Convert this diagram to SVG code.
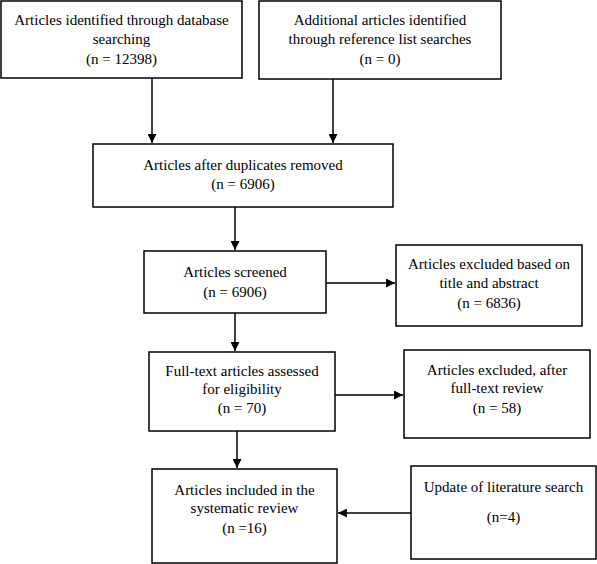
<svg xmlns="http://www.w3.org/2000/svg" width="597" height="564" viewBox="0 0 597 564">
<defs>
<marker id="ah" viewBox="0 0 10 10" refX="10" refY="5" markerWidth="9" markerHeight="9" markerUnits="userSpaceOnUse" orient="auto">
<path d="M0,0 L10,5 L0,10 z" fill="#000"/>
</marker>
<style>
.box{fill:#fff;stroke:#000;stroke-width:1.5}
.t{font-family:"Liberation Serif","Times New Roman",serif;font-size:15px;fill:#000;text-anchor:middle}
.c{stroke:#000;stroke-width:1.5;fill:none;marker-end:url(#ah)}
</style>
</defs>
<rect width="597" height="564" fill="#fff"/>
<g id="connectors">
<line class="c" x1="152" y1="78" x2="152" y2="143"/>
<line class="c" x1="333" y1="79" x2="333" y2="143"/>
<line class="c" x1="235" y1="207" x2="235" y2="250"/>
<line class="c" x1="326" y1="283" x2="395" y2="283"/>
<line class="c" x1="235" y1="313" x2="235" y2="351"/>
<line class="c" x1="335" y1="395" x2="403" y2="395"/>
<line class="c" x1="237" y1="431" x2="237" y2="468"/>
<line class="c" x1="411" y1="513" x2="338" y2="513"/>
</g>
<g id="n1">
<rect class="box" x="1" y="1" width="241" height="77"/>
<text class="t" x="121.5" y="25">Articles identified through database</text>
<text class="t" x="121.5" y="44">searching</text>
<text class="t" x="121.5" y="64">(n = 12398)</text>
</g>
<g id="n2">
<rect class="box" x="259" y="1" width="242" height="78"/>
<text class="t" x="380" y="25">Additional articles identified</text>
<text class="t" x="380" y="44">through reference list searches</text>
<text class="t" x="380" y="64">(n = 0)</text>
</g>
<g id="n3">
<rect class="box" x="93" y="144" width="300" height="63"/>
<text class="t" x="243" y="170">Articles after duplicates removed</text>
<text class="t" x="243" y="189">(n = 6906)</text>
</g>
<g id="n4">
<rect class="box" x="144" y="251" width="182" height="62"/>
<text class="t" x="235" y="277">Articles screened</text>
<text class="t" x="235" y="297">(n = 6906)</text>
</g>
<g id="n5">
<rect class="box" x="396" y="245" width="186" height="81"/>
<text class="t" x="489" y="269">Articles excluded based on</text>
<text class="t" x="489" y="288">title and abstract</text>
<text class="t" x="489" y="308">(n = 6836)</text>
</g>
<g id="n6">
<rect class="box" x="149" y="352" width="186" height="79"/>
<text class="t" x="242" y="376">Full-text articles assessed</text>
<text class="t" x="242" y="394">for eligibility</text>
<text class="t" x="242" y="413">(n = 70)</text>
</g>
<g id="n7">
<rect class="box" x="404" y="350" width="186" height="88"/>
<text class="t" x="497" y="375">Articles excluded, after</text>
<text class="t" x="497" y="393">full-text review</text>
<text class="t" x="497" y="413">(n = 58)</text>
</g>
<g id="n8">
<rect class="box" x="152" y="469" width="185" height="94"/>
<text class="t" x="244.5" y="495">Articles included in the</text>
<text class="t" x="244.5" y="513">systematic review</text>
<text class="t" x="244.5" y="533">(n =16)</text>
</g>
<g id="n9">
<rect class="box" x="411" y="466" width="185" height="93"/>
<text class="t" x="503.5" y="492">Update of literature search</text>
<text class="t" x="503.5" y="522">(n=4)</text>
</g>
</svg>
